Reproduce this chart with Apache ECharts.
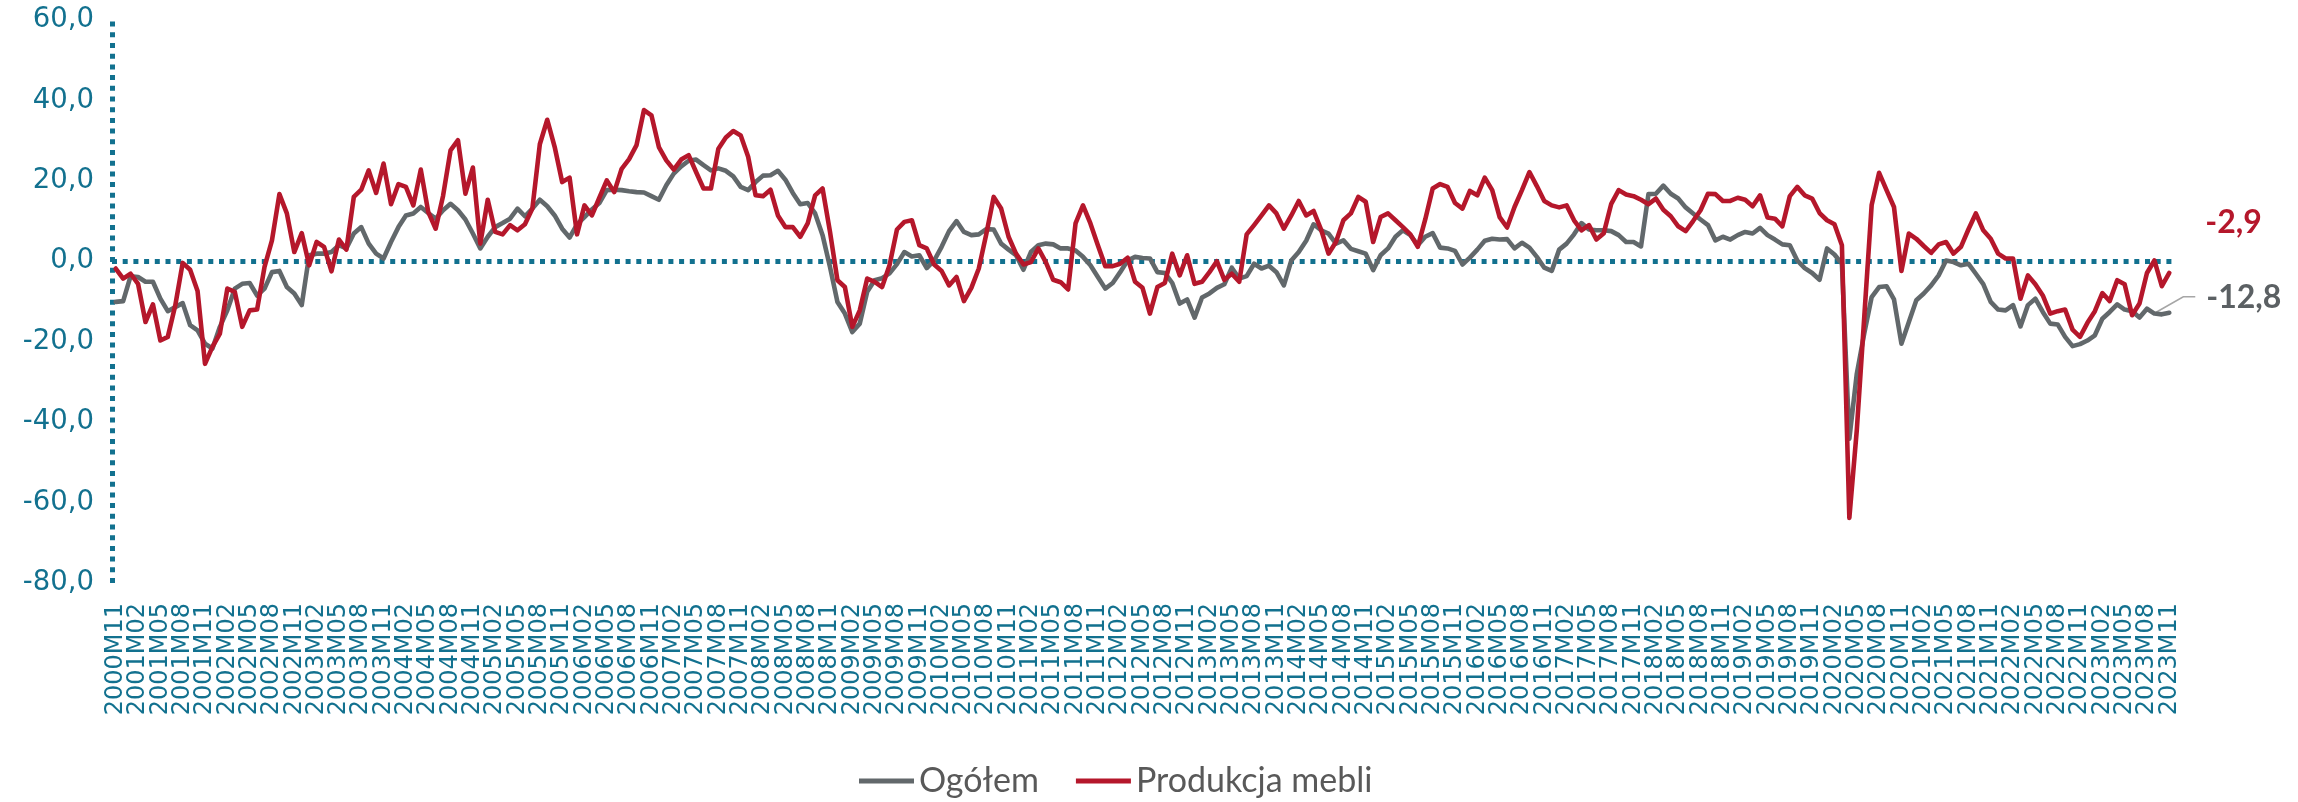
<!DOCTYPE html>
<html>
<head>
<meta charset="utf-8">
<script src="https://cdn.jsdelivr.net/npm/echarts@6/dist/echarts.min.js"></script>
<style>
  html, body { margin: 0; padding: 0; background: #ffffff; }
  #chart { width: 2298px; height: 802px; }
</style>
</head>
<body>
<div id="chart"></div>
<script>
// Monthly categories 2000M11 … 2023M11
const startYear = 2000, startMonth = 11, monthCount = 277;
const months = [];
for (let k = 0, y = startYear, m = startMonth; k < monthCount; k++) {
  months.push(y + 'M' + String(m).padStart(2, '0'));
  m++; if (m > 12) { m = 1; y++; }
}
// a tick label every third month
const labelStep = 3;

// Ogółem (all industry), one row per year
const ogolem = [
  -10.1, -9.9,
  -3.7, -3.9, -5.1, -5.1, -9.3, -12.4, -11.4, -10.4, -15.9, -17.2, -20.5, -21.7,
  -16.3, -12.2, -6.8, -5.6, -5.4, -8.5, -6.8, -2.7, -2.4, -6.4, -8.0, -10.9,
  1.5, 1.9, 1.9, 2.3, 4.0, 3.2, 6.9, 8.5, 4.4, 1.9, 0.7, 4.8,
  8.5, 11.4, 11.9, 13.5, 12.0, 10.6, 12.7, 14.3, 12.7, 10.4, 6.9, 3.2,
  6.1, 8.5, 9.5, 10.6, 13.1, 11.2, 13.1, 15.3, 13.7, 11.4, 8.1, 5.9,
  9.2, 11.0, 12.9, 14.5, 17.7, 17.8, 17.7, 17.4, 17.2, 17.1, 16.2, 15.3,
  18.9, 21.8, 23.6, 25.0, 25.3, 23.9, 22.6, 23.1, 22.5, 21.1, 18.5, 17.7,
  19.7, 21.3, 21.4, 22.5, 20.3, 17.0, 14.2, 14.5, 11.9, 6.5, -1.4, -10.1,
  -13.0, -17.6, -15.5, -7.6, -4.7, -4.2, -3.0, -0.7, 2.3, 1.2, 1.5, -1.7,
  0.2, 3.6, 7.5, 10.0, 7.3, 6.5, 6.7, 8.0, 7.9, 4.4, 2.9, 1.5,
  -2.1, 2.3, 4.0, 4.4, 4.2, 3.2, 3.2, 2.7, 1.1, -1.0, -3.9, -6.8,
  -5.4, -2.7, 0.2, 1.1, 0.8, 0.7, -2.7, -2.9, -5.4, -10.5, -9.5, -14.0,
  -9.0, -8.0, -6.6, -5.7, -1.6, -4.3, -3.7, -0.6, -1.8, -1.1, -2.7, -6.0,
  0.2, 2.3, 5.1, 9.2, 7.7, 6.9, 4.4, 5.2, 3.1, 2.5, 1.9, -2.2,
  1.5, 3.2, 6.1, 7.7, 6.5, 4.0, 6.1, 7.0, 3.4, 3.2, 2.6, -0.8,
  0.9, 2.9, 5.1, 5.6, 5.4, 5.5, 3.2, 4.6, 3.4, 1.1, -1.6, -2.4,
  2.9, 4.4, 6.7, 9.5, 7.9, 7.7, 7.7, 7.5, 6.5, 4.8, 4.8, 3.7,
  16.7, 16.8, 18.8, 16.8, 15.6, 13.4, 11.9, 10.4, 9.0, 5.2, 6.1, 5.4,
  6.5, 7.3, 6.9, 8.3, 6.5, 5.4, 4.2, 4.0, 0.2, -1.7, -2.9, -4.6,
  3.2, 1.7, -0.6, -44.1, -28.0, -18.0, -8.9, -6.4, -6.2, -9.5, -20.5, -15.1,
  -9.7, -8.0, -6.0, -3.5, 0.2, -0.2, -1.0, -0.6, -3.1, -5.7, -10.1, -12.0,
  -12.2, -10.9, -16.2, -10.9, -9.3, -12.6, -15.5, -15.7, -18.8, -21.1, -20.6, -19.7,
  -18.4, -14.3, -12.6, -10.7, -12.0, -12.4, -14.0, -11.8, -13.0, -13.2, -12.8
];

// Produkcja mebli (furniture manufacturing), one row per year
const meble = [
  -1.8, -4.3,
  -3.1, -5.6, -15.1, -10.7, -19.7, -18.8, -11.0, -0.4, -2.1, -7.4, -25.5, -21.3,
  -18.0, -6.8, -7.6, -16.3, -12.2, -12.0, -1.4, 5.2, 16.7, 11.9, 2.3, 7.0,
  -1.0, 4.8, 3.6, -2.5, 5.4, 2.9, 16.0, 17.8, 22.6, 17.0, 24.3, 14.2,
  19.2, 18.5, 13.9, 22.8, 12.3, 8.1, 16.3, 27.6, 30.1, 16.8, 23.3, 4.4,
  15.3, 7.3, 6.7, 9.0, 7.7, 9.2, 13.1, 29.1, 35.2, 28.4, 19.7, 20.8,
  6.7, 13.9, 11.4, 15.8, 20.1, 17.2, 23.0, 25.4, 28.9, 37.6, 36.3, 28.4,
  25.1, 22.8, 25.3, 26.4, 22.2, 18.1, 18.1, 28.0, 30.8, 32.4, 31.3, 26.0,
  16.4, 16.2, 17.8, 11.4, 8.5, 8.5, 6.1, 9.4, 16.4, 18.1, 7.3, -4.7,
  -6.4, -16.3, -12.2, -4.3, -5.1, -6.4, -1.0, 7.9, 9.8, 10.2, 4.0, 3.2,
  -0.8, -2.4, -6.0, -3.9, -9.9, -6.6, -1.8, 6.7, 16.0, 13.1, 6.1, 1.9,
  -0.8, -0.2, 3.2, -0.2, -4.6, -5.2, -7.0, 9.4, 13.9, 9.4, 4.0, -1.2,
  -1.2, -0.6, 0.9, -5.1, -6.6, -13.0, -6.4, -5.4, 1.9, -3.5, 1.5, -5.6,
  -5.1, -2.7, 0.0, -4.6, -3.1, -5.1, 6.7, 9.0, 11.4, 13.9, 11.9, 8.1,
  11.4, 15.0, 11.4, 12.5, 7.9, 1.9, 4.8, 10.2, 11.9, 16.0, 14.8, 4.8,
  11.0, 11.9, 10.2, 8.5, 6.7, 3.6, 10.4, 18.1, 19.2, 18.5, 14.5, 13.1,
  17.5, 16.4, 20.8, 17.7, 11.0, 8.4, 13.5, 17.7, 22.2, 18.7, 15.0, 13.9,
  13.4, 13.9, 10.2, 7.7, 9.0, 5.4, 7.0, 14.3, 17.7, 16.6, 16.2, 15.3,
  14.2, 15.6, 12.8, 11.2, 8.7, 7.5, 10.0, 12.7, 16.8, 16.7, 15.0, 15.0,
  15.8, 15.3, 13.7, 16.4, 10.9, 10.6, 8.7, 16.2, 18.5, 16.4, 15.6, 12.0,
  10.2, 9.2, 4.0, -63.8, -42.0, -14.0, 14.0, 22.0, 17.7, 13.5, -2.4, 6.9,
  5.6, 3.8, 2.1, 4.2, 4.8, 1.9, 3.6, 7.9, 11.9, 7.7, 5.6, 1.9,
  0.7, 0.7, -9.3, -3.5, -5.7, -8.5, -13.0, -12.4, -12.0, -17.0, -18.8, -15.3,
  -12.4, -7.9, -9.9, -4.7, -5.7, -13.4, -10.5, -2.9, 0.2, -6.2, -2.9
];

// Value axis scale
const yMin = -80, yMax = 60, yStep = 20;

const TEAL = '#12718F';
const GREY = '#62686B';
const RED = '#B5172B';
const dotted = [5, 5.7];

const fmt = v => Number(v).toFixed(1).replace('.', ',');
const lastIdx = months.length - 1;

const chart = echarts.init(document.getElementById('chart'), null, { renderer: 'canvas' });

chart.setOption({
  animation: false,
  backgroundColor: '#ffffff',
  grid: { left: 112, right: 125, top: 20, bottom: 219, containLabel: false },
  legend: {
    left: 854,
    top: 756,
    icon: 'rect',
    itemWidth: 55,
    itemHeight: 5,
    itemGap: 37,
    textStyle: { fontFamily: 'Lato', fontSize: 34, color: '#595959', lineHeight: 40 },
    data: ['Ogółem', 'Produkcja mebli']
  },
  xAxis: {
    type: 'category',
    data: months,
    boundaryGap: true,
    axisLine: { show: false },
    axisTick: { show: false },
    splitLine: { show: false },
    // month labels are laid out below, one every third category
    axisLabel: { show: false }
  },
  yAxis: {
    type: 'value',
    min: yMin,
    max: yMax,
    interval: yStep,
    axisLine: { show: true, lineStyle: { color: TEAL, width: 5, type: dotted, cap: 'butt' } },
    axisTick: { show: false },
    splitLine: { show: false },
    axisLabel: {
      margin: 18,
      color: TEAL,
      fontFamily: 'DejaVu Sans',
      fontSize: 27.5,
      formatter: v => fmt(v)
    }
  },
  series: [
    {
      name: 'Ogółem',
      type: 'line',
      data: ogolem,
      symbol: 'none',
      z: 2,
      itemStyle: { color: GREY },
      lineStyle: { color: GREY, width: 4.6, join: 'round', cap: 'round' },
      endLabel: {
        show: true,
        formatter: p => fmt(p.value),
        offset: [29, -15],
        color: '#5B6063',
        fontFamily: 'Lato',
        fontWeight: 'bold',
        fontSize: 32
      },
      markLine: {
        silent: true,
        symbol: 'none',
        z: 1,
        label: { show: false },
        lineStyle: { color: TEAL, width: 5, type: dotted, cap: 'butt' },
        data: [{ yAxis: 0 }]
      }
    },
    {
      name: 'Produkcja mebli',
      type: 'line',
      data: meble,
      symbol: 'none',
      z: 3,
      itemStyle: { color: RED },
      lineStyle: { color: RED, width: 4.6, join: 'round', cap: 'round' },
      endLabel: {
        show: true,
        formatter: p => fmt(p.value),
        offset: [28, -50],
        color: RED,
        fontFamily: 'Lato',
        fontWeight: 'bold',
        fontSize: 32
      }
    }
  ]
});

// Vertical month labels under the plot, placed by the category axis scale
const labelTop = chart.convertToPixel({ yAxisIndex: 0 }, yMin) + 20;
const monthTexts = [];
months.forEach((name, i) => {
  if (i % labelStep !== 0) return;
  const x = chart.convertToPixel({ xAxisIndex: 0 }, i);
  monthTexts.push({
    type: 'text',
    x: x,
    y: labelTop,
    rotation: Math.PI / 2,
    silent: true,
    style: {
      text: name,
      fill: TEAL,
      font: '24px "DejaVu Sans"',
      align: 'right',
      verticalAlign: 'middle'
    }
  });
});

// Leader line from the last Ogółem point towards its label
const p = chart.convertToPixel({ seriesIndex: 0 }, [lastIdx, ogolem[lastIdx]]);
chart.setOption({
  graphic: monthTexts.concat([{
    type: 'polyline',
    z: 1,
    shape: { points: [[p[0] - 14, p[1]], [p[0] + 14, p[1] - 16], [p[0] + 26, p[1] - 16]] },
    style: { stroke: '#A6A6A6', lineWidth: 1.6, fill: null }
  }])
});
</script>
</body>
</html>
